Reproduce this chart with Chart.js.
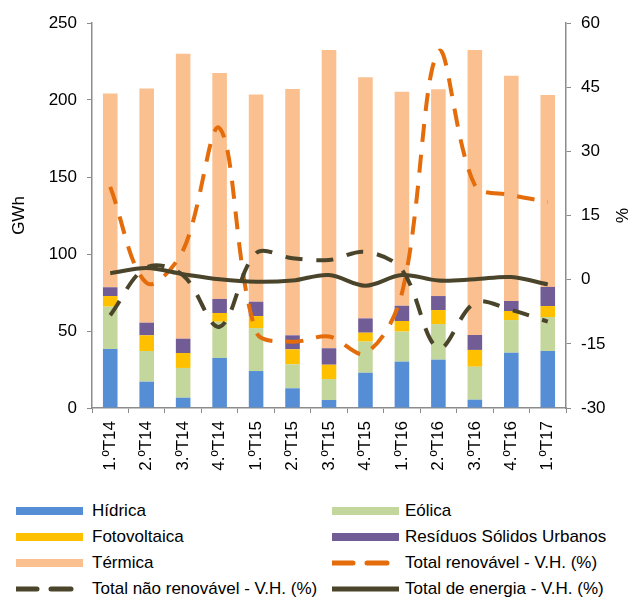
<!DOCTYPE html>
<html lang="pt">
<head>
    <meta charset="UTF-8">
    <title>Produção de energia por trimestre</title>
    <script src="https://cdn.jsdelivr.net/npm/chart.js@4.4.1/dist/chart.umd.min.js"></script>
    <style>
        body {
            margin: 0;
            font-family: "Liberation Sans", Arial, sans-serif;
            background: #fff;
        }
        #wrap {
            position: relative;
            width: 631px;
            height: 599px;
        }
        #chartBox {
            position: absolute;
            left: 0;
            top: 0;
            width: 631px;
            height: 490px;
        }
        .leg {
            position: absolute;
            font-size: 17px;
            color: #000;
            white-space: nowrap;
            line-height: 20px;
        }
        .leg svg {
            position: absolute;
            top: 6px;
        }
    </style>
</head>
<body>
<div id="wrap">
    <div id="chartBox"><canvas id="myChart" width="631" height="490"></canvas></div>
    <div id="legend"></div>
</div>

<script>
    const labels = ['1.ºT14', '2.ºT14', '3.ºT14', '4.ºT14', '1.ºT15', '2.ºT15', '3.ºT15',
                    '4.ºT15', '1.ºT16', '2.ºT16', '3.ºT16', '4.ºT16', '1.ºT17'];

    // GWh
    const hidrica = [38.3, 17.1, 6.7, 32.5, 24.0, 12.8, 5.2, 22.9, 30.1, 31.4, 5.4, 35.9, 37.0];
    const eolica = [27.5, 19.9, 19.3, 23.5, 27.9, 15.6, 13.6, 20.2, 19.5, 23.1, 21.4, 21.2, 22.1];
    const fotovoltaica = [6.9, 10.2, 9.7, 5.7, 7.8, 9.7, 9.3, 5.8, 6.9, 9.1, 10.9, 5.9, 7.1];
    const residuos = [5.7, 8.2, 9.3, 9.1, 9.3, 9.1, 10.7, 9.3, 9.9, 9.1, 9.7, 6.5, 12.4];
    const termica = [125.9, 152.0, 185.1, 146.7, 134.5, 159.9, 193.7, 156.5, 139.0, 134.2, 185.1, 146.3, 124.6];

    // variação homóloga (%)
    const vhRenovavel = [21.7, -0.8, 6.9, 35.4, -12.2, -14.5, -13.3, -17.2, -3.2, 53.3, 22.1, 19.8, 18.2];
    const vhNaoRenovavel = [-8.3, 2.9, 1.0, -11.0, 6.2, 5.0, 4.6, 6.5, 2.3, -16.0, -5.4, -7.1, -9.8];
    const vhTotal = [1.5, 2.7, 1.3, 0.1, -0.5, -0.2, 1.1, -1.4, 1.1, -0.2, 0.1, 0.6, -1.1];

    const gwhTicks = [0, 50, 100, 150, 200, 250];
    const pctTicks = [-30, -15, 0, 15, 30, 45, 60];

    const colHidrica = '#558ED5';
    const colEolica = '#C3D69B';
    const colFoto = '#FFC000';
    const colRsu = '#725C96';
    const colTermica = '#FAC090';
    const colOrange = '#E46C0A';
    const colDark = '#4A452A';
    const axisGray = '#8C8C8C';
    const fontFam = '"Liberation Sans", Arial, sans-serif';

    function bar(label, data, color) {
        return {
            type: 'bar', label: label, data: data, backgroundColor: color,
            yAxisID: 'y', stack: 's', order: 10,
            barPercentage: 0.5, categoryPercentage: 0.8
        };
    }

    function line(label, data, color, dash, order) {
        return {
            type: 'line', label: label, data: data, borderColor: color,
            backgroundColor: color, borderWidth: 4, borderDash: dash,
            pointRadius: 0, tension: 0.35, yAxisID: 'y1', order: order, fill: false
        };
    }

    const ctx = document.getElementById('myChart').getContext('2d');
    const myChart = new Chart(ctx, {
        data: {
            labels: labels,
            datasets: [
                bar('Hídrica', hidrica, colHidrica),
                bar('Eólica', eolica, colEolica),
                bar('Fotovoltaica', fotovoltaica, colFoto),
                bar('Resíduos Sólidos Urbanos', residuos, colRsu),
                bar('Térmica', termica, colTermica),
                line('Total renovável - V.H. (%)', vhRenovavel, colOrange, [18, 13], 3),
                line('Total não renovável - V.H. (%)', vhNaoRenovavel, colDark, [17, 14], 2),
                line('Total de energia - V.H. (%)', vhTotal, colDark, [], 1)
            ]
        },
        options: {
            responsive: false,
            animation: false,
            layout: { padding: { top: 23, left: 0, right: 0, bottom: 0 } },
            plugins: {
                legend: { display: false },
                tooltip: { enabled: false }
            },
            scales: {
                x: {
                    stacked: true,
                    grid: { display: true, drawOnChartArea: false, offset: true, tickLength: 5, color: axisGray },
                    border: { color: axisGray, width: 1.5 },
                    ticks: {
                        color: '#000', font: { family: fontFam, size: 17 },
                        minRotation: 90, maxRotation: 90, padding: 8, autoSkip: false
                    },
                    afterFit: function (scale) { scale.height = 82; }
                },
                y: {
                    stacked: true,
                    position: 'left',
                    min: 0, max: 250,
                    afterBuildTicks: function (scale) { scale.ticks = gwhTicks.map(v => ({ value: v })); },
                    grid: { drawOnChartArea: false, tickLength: 5, color: axisGray },
                    border: { color: axisGray, width: 1.5 },
                    ticks: { color: '#000', font: { family: fontFam, size: 17 }, padding: 10 },
                    title: {
                        display: true, text: 'GWh', color: '#000',
                        font: { family: fontFam, size: 17 }, padding: { top: 9, bottom: 0 }
                    },
                    afterFit: function (scale) { scale.width = 92; }
                },
                y1: {
                    stacked: false,
                    position: 'right',
                    min: -30, max: 60,
                    afterBuildTicks: function (scale) { scale.ticks = pctTicks.map(v => ({ value: v })); },
                    grid: { drawOnChartArea: false, tickLength: 5, color: axisGray },
                    border: { color: axisGray, width: 1.5 },
                    ticks: { color: '#000', font: { family: fontFam, size: 17 }, padding: 10 },
                    title: {
                        display: true, text: '%', color: '#000',
                        font: { family: fontFam, size: 17 }, padding: { top: 0, bottom: 4 }
                    },
                    afterFit: function (scale) { scale.width = 65; }
                }
            }
        }
    });

    // legenda em duas colunas, como no original
    const legendItems = [
        { text: 'Hídrica', kind: 'box', color: colHidrica },
        { text: 'Eólica', kind: 'box', color: colEolica },
        { text: 'Fotovoltaica', kind: 'box', color: colFoto },
        { text: 'Resíduos Sólidos Urbanos', kind: 'box', color: colRsu },
        { text: 'Térmica', kind: 'box', color: colTermica },
        { text: 'Total renovável - V.H. (%)', kind: 'dash', color: colOrange },
        { text: 'Total não renovável - V.H. (%)', kind: 'dash', color: colDark },
        { text: 'Total de energia - V.H. (%)', kind: 'solid', color: colDark }
    ];

    function swatch(item) {
        if (item.kind === 'box') {
            return '<rect x="0" y="0" width="67" height="8" fill="' + item.color + '"/>';
        }
        if (item.kind === 'dash') {
            return '<line x1="0" y1="4" x2="67" y2="4" stroke="' + item.color +
                   '" stroke-width="5" stroke-dasharray="0 1 20 14 20 100" stroke-linecap="round"/>';
        }
        return '<line x1="0" y1="4" x2="67" y2="4" stroke="' + item.color + '" stroke-width="5"/>';
    }

    const legendEl = document.getElementById('legend');
    legendItems.forEach((item, i) => {
        const col = i % 2;
        const row = Math.floor(i / 2);
        const left = col === 0 ? 16 : 332;
        const top = 501 + row * 26;
        const div = document.createElement('div');
        div.className = 'leg';
        div.style.left = left + 'px';
        div.style.top = top + 'px';
        div.innerHTML = '<svg width="67" height="8" style="left:0">' + swatch(item) + '</svg>' +
                        '<span style="position:absolute;left:' + (col === 0 ? 76 : 73) + 'px;top:0">' + item.text + '</span>';
        legendEl.appendChild(div);
    });
</script>
</body>
</html>
